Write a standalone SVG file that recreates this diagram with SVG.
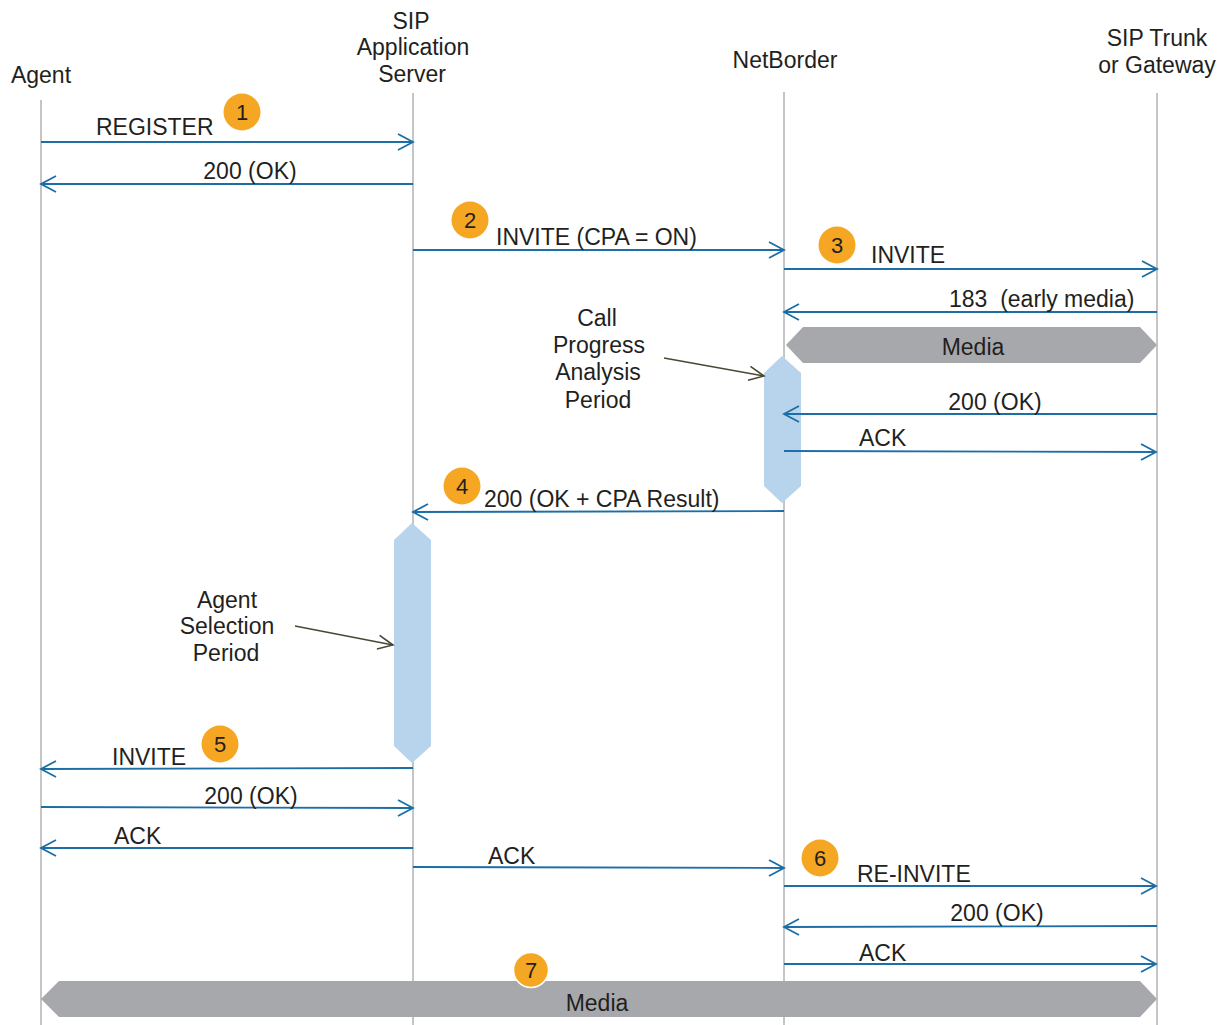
<svg xmlns="http://www.w3.org/2000/svg" width="1225" height="1025" viewBox="0 0 1225 1025">
<defs>
<style>
text{font-family:"Liberation Sans",Arial,sans-serif;fill:#231f20;}
.t{font-size:23px;}
.c{text-anchor:middle;}
.n{font-size:22px;text-anchor:middle;}
.life{stroke:#b6b7ba;stroke-width:1.6;fill:none;}
.msg{stroke:#1b6ea6;stroke-width:1.8;fill:none;marker-end:url(#ah);}
.note{stroke:#4a4733;stroke-width:1.6;fill:none;marker-end:url(#nh);}
.badge{fill:#f5a623;}
.act{fill:#b7d4ec;}
.media{fill:#a7a8ab;}
</style>
<marker id="ah" markerUnits="userSpaceOnUse" viewBox="-16 -10 18 20" refX="0" refY="0" markerWidth="18" markerHeight="20" orient="auto">
<path d="M-15,-8 L0,0 L-15,8" fill="none" stroke="#1b6ea6" stroke-width="1.8"/>
</marker>
<marker id="nh" markerUnits="userSpaceOnUse" viewBox="-16 -10 18 20" refX="0" refY="0" markerWidth="18" markerHeight="20" orient="auto">
<path d="M-15,-7 L0,0 L-15,7" fill="none" stroke="#4a4733" stroke-width="1.6"/>
</marker>
</defs>
<rect width="1225" height="1025" fill="#ffffff"/>

<g id="agent">
<text class="t c" x="41" y="83">Agent</text>
<line class="life" x1="41" y1="100" x2="41" y2="1025"/>
</g>
<g id="sip-as">
<text class="t c" x="411" y="29">SIP</text>
<text class="t c" x="413" y="55">Application</text>
<text class="t c" x="412" y="82">Server</text>
<line class="life" x1="413" y1="93" x2="413" y2="1025"/>
</g>
<g id="netborder">
<text class="t c" x="785" y="68">NetBorder</text>
<line class="life" x1="784" y1="92" x2="784" y2="1025"/>
</g>
<g id="trunk">
<text class="t c" x="1157" y="46">SIP Trunk</text>
<text class="t c" x="1157" y="73">or Gateway</text>
<line class="life" x1="1157" y1="93" x2="1157" y2="1025"/>
</g>

<g id="cpa-period">
<polygon class="act" points="782,356 801,373 801,486 782,503 764,486 764,373"/>
<text class="t c" x="597" y="326">Call</text>
<text class="t c" x="599" y="353">Progress</text>
<text class="t c" x="598" y="380">Analysis</text>
<text class="t c" x="598" y="408">Period</text>
</g>
<g id="agent-selection">
<polygon class="act" points="412,523 431,540 431,746 412,763 394,746 394,540"/>
<text class="t c" x="227" y="608">Agent</text>
<text class="t c" x="227" y="634">Selection</text>
<text class="t c" x="226" y="661">Period</text>
</g>

<g id="media-top">
<polygon class="media" points="786,345 803,327 1140,327 1157,345 1140,363 803,363"/>
<text class="t c" x="973" y="355">Media</text>
</g>
<g id="media-bottom">
<polygon class="media" points="41,999 59,981 1140,981 1157,999 1140,1017 59,1017"/>
<text class="t c" x="597" y="1011">Media</text>
</g>

<g id="connectors">
<line class="msg" x1="41" y1="142" x2="413" y2="142"/>
<line class="msg" x1="413" y1="184" x2="41" y2="184"/>
<line class="msg" x1="413" y1="250" x2="784" y2="250"/>
<line class="msg" x1="784" y1="269" x2="1157" y2="269"/>
<line class="msg" x1="1157" y1="312" x2="784" y2="312"/>
<line class="msg" x1="1157" y1="414" x2="784" y2="414"/>
<line class="msg" x1="784" y1="451" x2="1156" y2="452"/>
<line class="msg" x1="784" y1="511" x2="413" y2="512"/>
<line class="msg" x1="413" y1="768" x2="41" y2="769"/>
<line class="msg" x1="41" y1="807" x2="413" y2="808"/>
<line class="msg" x1="413" y1="848" x2="41" y2="848"/>
<line class="msg" x1="413" y1="867" x2="784" y2="868"/>
<line class="msg" x1="784" y1="886" x2="1156" y2="886"/>
<line class="msg" x1="1157" y1="926" x2="784" y2="927"/>
<line class="msg" x1="784" y1="964" x2="1156" y2="964"/>
<line class="note" x1="664" y1="358" x2="764" y2="376"/>
<line class="note" x1="295" y1="626" x2="393" y2="645"/>
</g>

<g id="labels">
<text class="t" x="96" y="135">REGISTER</text>
<text class="t c" x="250" y="179">200 (OK)</text>
<text class="t" x="496" y="245">INVITE (CPA = ON)</text>
<text class="t" x="871" y="263">INVITE</text>
<text class="t" x="949" y="307" xml:space="preserve">183  (early media)</text>
<text class="t c" x="995" y="410">200 (OK)</text>
<text class="t" x="859" y="446">ACK</text>
<text class="t" x="484" y="507">200 (OK + CPA Result)</text>
<text class="t" x="112" y="765">INVITE</text>
<text class="t c" x="251" y="804">200 (OK)</text>
<text class="t" x="114" y="844">ACK</text>
<text class="t" x="488" y="864">ACK</text>
<text class="t" x="857" y="882">RE-INVITE</text>
<text class="t c" x="997" y="921">200 (OK)</text>
<text class="t" x="859" y="961">ACK</text>
</g>

<g id="badge-1"><circle class="badge" cx="242" cy="112" r="18.5"/><text class="n" x="242" y="120">1</text></g>
<g id="badge-2"><circle class="badge" cx="470" cy="220" r="18.5"/><text class="n" x="470" y="228">2</text></g>
<g id="badge-3"><circle class="badge" cx="837" cy="245" r="18.5"/><text class="n" x="837" y="253">3</text></g>
<g id="badge-4"><circle class="badge" cx="462" cy="486" r="18.5"/><text class="n" x="462" y="494">4</text></g>
<g id="badge-5"><circle class="badge" cx="220" cy="744" r="18.5"/><text class="n" x="220" y="752">5</text></g>
<g id="badge-6"><circle class="badge" cx="820" cy="858" r="18.5"/><text class="n" x="820" y="866">6</text></g>
<g id="badge-7"><circle class="badge" cx="531" cy="970" r="17.5" stroke="#ffffff" stroke-width="1.5"/><text class="n" x="531" y="978">7</text></g>
</svg>
